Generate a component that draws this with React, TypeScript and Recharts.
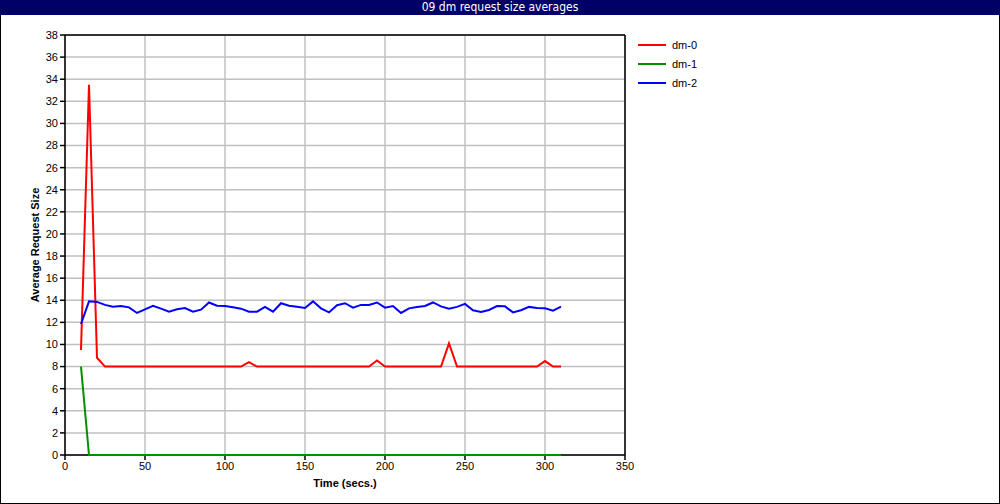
import React from "react";
import {
  LineChart, Line, XAxis, YAxis, CartesianGrid, Legend, ReferenceLine,
} from "recharts";

const times = [
  10, 15, 20, 25, 30, 35, 40, 45, 50, 55, 60, 65, 70, 75, 80, 85, 90, 95, 100, 105,
  110, 115, 120, 125, 130, 135, 140, 145, 150, 155, 160, 165, 170, 175, 180, 185, 190, 195, 200, 205,
  210, 215, 220, 225, 230, 235, 240, 245, 250, 255, 260, 265, 270, 275, 280, 285, 290, 295, 300, 305,
  310,
];

const dm0 = [
  9.5, 33.5, 8.8, 8, 8, 8, 8, 8, 8, 8, 8, 8, 8, 8, 8, 8, 8, 8, 8, 8,
  8, 8.4, 8, 8, 8, 8, 8, 8, 8, 8, 8, 8, 8, 8, 8, 8, 8, 8.55, 8, 8,
  8, 8, 8, 8, 8, 8, 10.1, 8, 8, 8, 8, 8, 8, 8, 8, 8, 8, 8, 8.5, 8,
  8,
];

const dm1 = [
  8, 0, 0, 0, 0, 0, 0, 0, 0, 0, 0, 0, 0, 0, 0, 0, 0, 0, 0, 0,
  0, 0, 0, 0, 0, 0, 0, 0, 0, 0, 0, 0, 0, 0, 0, 0, 0, 0, 0, 0,
  0, 0, 0, 0, 0, 0, 0, 0, 0, 0, 0, 0, 0, 0, 0, 0, 0, 0, 0, 0,
  0,
];

const dm2 = [
  11.85, 13.9, 13.85, 13.58, 13.42, 13.48, 13.36, 12.85, 13.18, 13.5, 13.24, 12.97, 13.18, 13.3, 12.97, 13.15, 13.8, 13.5, 13.48, 13.36,
  13.24, 12.97, 12.97, 13.4, 12.97, 13.73, 13.5, 13.42, 13.3, 13.9, 13.27, 12.9, 13.55, 13.73, 13.33, 13.58, 13.58, 13.8, 13.33, 13.48,
  12.85, 13.27, 13.4, 13.48, 13.8, 13.45, 13.24, 13.4, 13.67, 13.1, 12.94, 13.12, 13.48, 13.45, 12.9, 13.1, 13.4, 13.3, 13.27, 13.06,
  13.42,
];

const xTicks = [0, 50, 100, 150, 200, 250, 300, 350];
const yTicks = [0, 2, 4, 6, 8, 10, 12, 14, 16, 18, 20, 22, 24, 26, 28, 30, 32, 34, 36, 38];

const data = times.map((t, i) => ({ t, dm0: dm0[i], dm1: dm1[i], dm2: dm2[i] }));

const FONT = "'Liberation Sans', Arial, sans-serif";

function LegendBox({ payload }: { payload?: { value: string; color: string }[] }) {
  return (
    <div style={{ fontFamily: FONT, fontSize: 11, color: "#000" }}>
      {(payload || []).map((p) => (
        <div key={p.value} style={{ display: "flex", alignItems: "center", height: 19 }}>
          <span style={{ display: "inline-block", width: 28, height: 2, background: p.color, marginRight: 6 }} />
          <span>{p.value}</span>
        </div>
      ))}
    </div>
  );
}

export default function App() {
  return (
    <div
      style={{
        position: "absolute", top: 0, left: 0, width: 1000, height: 504,
        background: "#fff", outline: "1px solid #000", outlineOffset: -1,
      }}
    >
      <LineChart
        width={1000}
        height={504}
        data={data}
        margin={{ top: 35, right: 375, bottom: 19, left: 20 }}
      >
        <CartesianGrid stroke="#c0c0c0" strokeWidth={1.5} />
        <XAxis
          type="number"
          dataKey="t"
          domain={[0, 350]}
          ticks={xTicks}
          height={30}
          tickSize={5}
          tickMargin={2}
          stroke="#000"
          strokeWidth={1.5}
          tick={{ fill: "#000", fontSize: 11, fontFamily: FONT }}
          label={{
            content: ({ viewBox }: any) => (
              <text
                x={viewBox.x + viewBox.width / 2}
                y={viewBox.y + 28}
                textAnchor="middle"
                dominantBaseline="central"
                fontFamily={FONT}
                fontSize={11}
                fontWeight="bold"
                fill="#000"
              >
                Time (secs.)
              </text>
            ),
          }}
        />
        <YAxis
          type="number"
          domain={[0, 38]}
          ticks={yTicks}
          interval={0}
          width={45}
          tickSize={5}
          tickMargin={2}
          stroke="#000"
          strokeWidth={1.5}
          tick={{ fill: "#000", fontSize: 11, fontFamily: FONT }}
          label={{
            content: ({ viewBox }: any) => {
              const cx = viewBox.x + 15;
              const cy = viewBox.y + viewBox.height / 2;
              return (
                <text
                  x={cx}
                  y={cy}
                  transform={`rotate(-90 ${cx} ${cy})`}
                  textAnchor="middle"
                  dominantBaseline="central"
                  fontFamily={FONT}
                  fontSize={11}
                  fontWeight="bold"
                  fill="#000"
                >
                  Average Request Size
                </text>
              );
            },
          }}
        />
        <ReferenceLine y={38} stroke="#000" strokeWidth={1.5} ifOverflow="visible" />
        <ReferenceLine x={350} stroke="#000" strokeWidth={1.5} ifOverflow="visible" />
        <Legend
          layout="vertical"
          align="center"
          verticalAlign="middle"
          content={<LegendBox />}
          wrapperStyle={{ position: "absolute", left: 638, top: 35, width: 100 }}
        />
        <Line type="linear" dataKey="dm0" name="dm-0" stroke="#ff0000" strokeWidth={2} dot={false} isAnimationActive={false} zIndex={600} />
        <Line type="linear" dataKey="dm1" name="dm-1" stroke="#009000" strokeWidth={2} dot={false} isAnimationActive={false} zIndex={600} />
        <Line type="linear" dataKey="dm2" name="dm-2" stroke="#0000ff" strokeWidth={2} dot={false} isAnimationActive={false} zIndex={600} />
      </LineChart>
      <div
        style={{
          position: "absolute", top: 0, left: 0, width: 1000, height: 15,
          background: "#000066", color: "#fff", textAlign: "center",
          fontFamily: "'DejaVu Sans Condensed', 'DejaVu Sans', sans-serif",
          fontSize: 12, lineHeight: "15px",
        }}
      >
        09 dm request size averages
      </div>
    </div>
  );
}
